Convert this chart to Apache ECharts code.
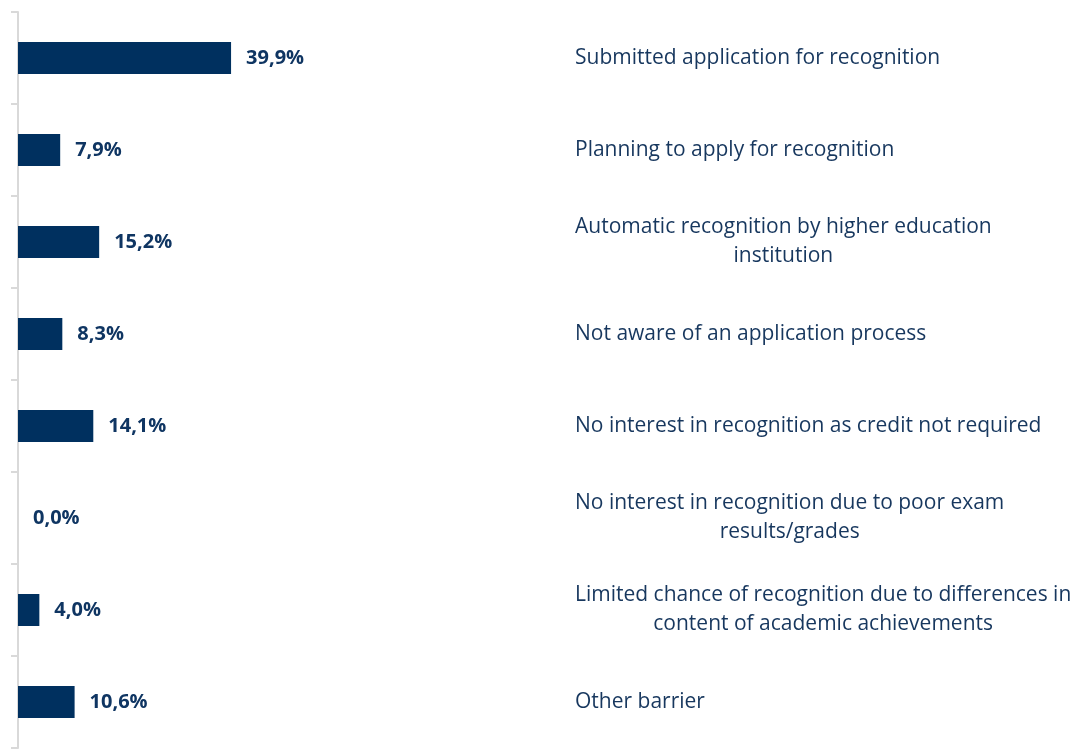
<!DOCTYPE html>
<html lang="en">
<head>
    <meta charset="utf-8">
    <title>Recognition</title>
    <script src="https://cdn.jsdelivr.net/npm/echarts@6/dist/echarts.min.js"></script>
    <style>
        html, body { margin: 0; padding: 0; background: #fff; }
        #chart { width: 1078px; height: 752px; }
    </style>
</head>
<body>
<div id="chart"></div>
<script type="text/javascript">
    // categories, top to bottom
    var categories = [
        'Submitted application for recognition',
        'Planning to apply for recognition',
        'Automatic recognition by higher education\ninstitution',
        'Not aware of an application process',
        'No interest in recognition as credit not required',
        'No interest in recognition due to poor exam\nresults/grades',
        'Limited chance of recognition due to differences in\ncontent of academic achievements',
        'Other barrier'
    ];
    var shares = [39.9, 7.9, 15.2, 8.3, 14.1, 0.0, 4.0, 10.6];

    var myChart = echarts.init(document.getElementById('chart'));
    var option = {
        animation: false,
        textStyle: { fontFamily: 'Open Sans' },
        grid: {
            left: 18, right: 526, top: 12, bottom: 4,
            containLabel: false,
            outerBoundsMode: 'none'
        },
        xAxis: {
            type: 'value',
            min: 0,
            max: 100,
            show: false
        },
        yAxis: [
            {
                type: 'category',
                data: categories,
                inverse: true,
                position: 'left',
                axisLine: { show: true, lineStyle: { color: '#d9d9d9', width: 2 } },
                axisTick: { show: true, length: 7, lineStyle: { color: '#d9d9d9', width: 2 } },
                axisLabel: { show: false }
            },
            {
                type: 'category',
                data: categories,
                inverse: true,
                position: 'right',
                axisLine: { show: false },
                axisTick: { show: false },
                axisLabel: {
                    margin: 23,
                    align: 'left',
                    formatter: function (v) {
                        return v.split('\n').map(function (s) { return '{c|' + s + '}'; }).join('\n');
                    },
                    rich: {
                        c: {
                            align: 'center',
                            fontFamily: 'Open Sans',
                            fontSize: 21,
                            lineHeight: 29,
                            color: '#17375E'
                        }
                    }
                }
            }
        ],
        series: [{
            type: 'bar',
            data: shares,
            yAxisIndex: 0,
            barWidth: 32,
            itemStyle: { color: '#00305F' },
            label: {
                show: true,
                position: 'right',
                distance: 15,
                fontFamily: 'Open Sans',
                fontWeight: 'bold',
                fontSize: 20,
                color: '#0F3562',
                formatter: function (p) {
                    return p.value.toFixed(1).replace('.', ',') + '%';
                }
            }
        }]
    };
    myChart.setOption(option);
</script>
</body>
</html>
